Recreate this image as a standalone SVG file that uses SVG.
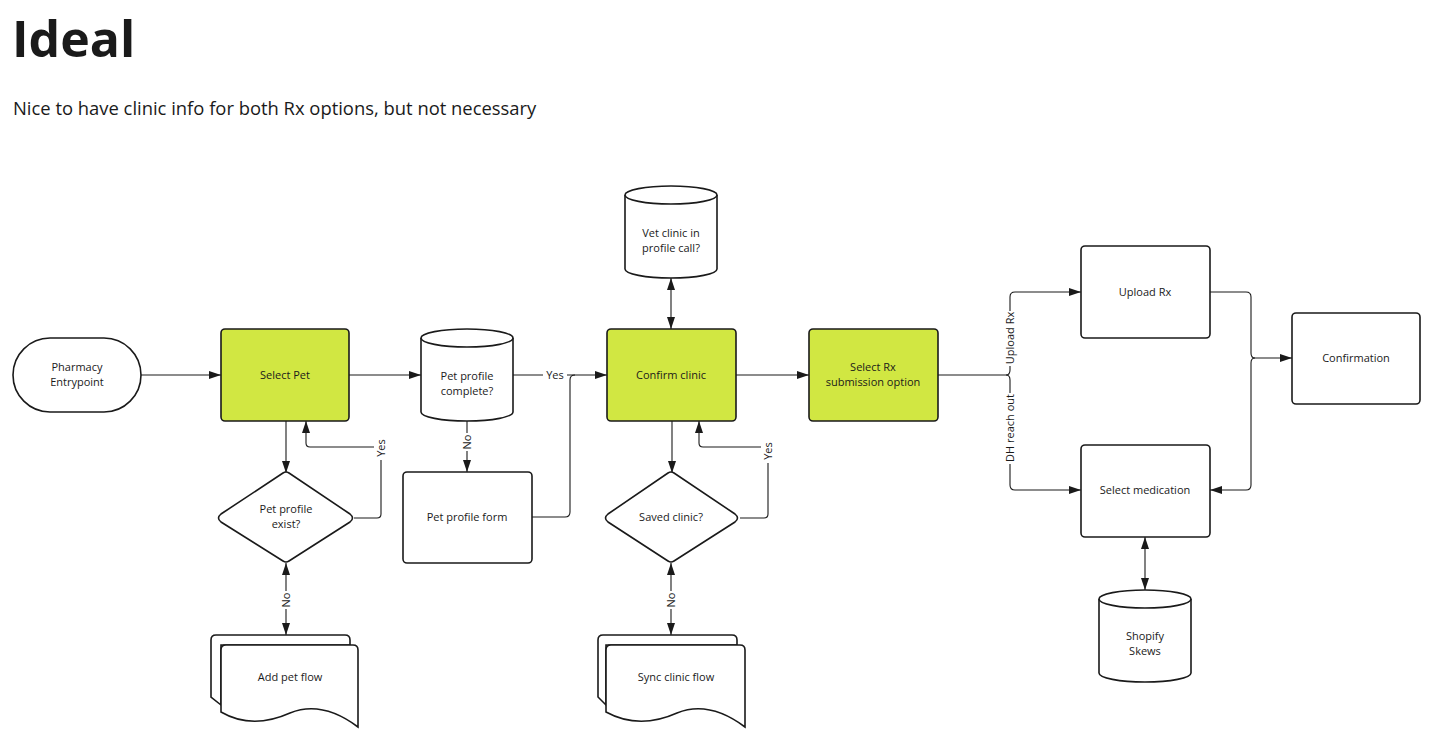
<svg xmlns="http://www.w3.org/2000/svg" width="1440" height="748" viewBox="0 0 1440 748">
<defs>
<marker id="arr" viewBox="0 0 12 8" refX="12" refY="4" markerWidth="12" markerHeight="8" markerUnits="userSpaceOnUse" orient="auto-start-reverse">
<path d="M0,0 L12,4 L0,8 Z" fill="#1a1a1a"/>
</marker>
<style>
.t{font-family:"Open Sans","Noto Sans","Liberation Sans",sans-serif;fill:#1a1a1a}
.n{font-size:11px;text-anchor:middle}
.s{fill:#fff;stroke:#1a1a1a;stroke-width:1.6}
.g{fill:#d1e742;stroke:#1a1a1a;stroke-width:1.6}
.c{fill:none;stroke:#1a1a1a;stroke-width:1.1}
.lb{fill:#fff;stroke:none}
</style>
</defs>
<rect width="1440" height="748" fill="#fff"/>
<text class="t" x="12" y="57" font-size="50" font-weight="700">Ideal</text>
<text class="t" x="13" y="115" font-size="18.4">Nice to have clinic info for both Rx options, but not necessary</text>

<g id="connectors">
<path class="c" d="M140,375 H221" marker-end="url(#arr)"/>
<path class="c" d="M349,375 H421" marker-end="url(#arr)"/>
<path class="c" d="M513,375 H607" marker-end="url(#arr)"/>
<path class="c" d="M532,517 H565 Q570,517 570,512 V380 Q570,375 575,375"/>
<path class="c" d="M286,421 V473" marker-end="url(#arr)"/>
<path class="c" d="M354,518 H377 Q381,518 381,514 V451 Q381,447 377,447 H310 Q306,447 306,443 V421" marker-end="url(#arr)"/>
<path class="c" d="M467,421 V472" marker-end="url(#arr)"/>
<path class="c" d="M286,563 V635" marker-start="url(#arr)" marker-end="url(#arr)"/>
<path class="c" d="M671,278 V329" marker-start="url(#arr)" marker-end="url(#arr)"/>
<path class="c" d="M672,421 V473" marker-end="url(#arr)"/>
<path class="c" d="M740,518 H764 Q768,518 768,514 V451 Q768,447 764,447 H703 Q699,447 699,443 V421" marker-end="url(#arr)"/>
<path class="c" d="M671,563 V635" marker-start="url(#arr)" marker-end="url(#arr)"/>
<path class="c" d="M736,375 H809" marker-end="url(#arr)"/>
<path class="c" d="M938,375 H1006 Q1010,375 1010,370 V297 Q1010,292 1015,292 H1081" marker-end="url(#arr)"/>
<path class="c" d="M1006,375 Q1010,375 1010,380 V485 Q1010,490 1015,490 H1081" marker-end="url(#arr)"/>
<path class="c" d="M1210,292 H1246 Q1251,292 1251,297 V353 Q1251,358 1255,358 H1292" marker-end="url(#arr)"/>
<path class="c" d="M1255,358 Q1251,358 1251,363 V485 Q1251,490 1246,490 H1210" marker-end="url(#arr)"/>
<path class="c" d="M1145,537 V590" marker-start="url(#arr)" marker-end="url(#arr)"/>
<rect class="lb" x="543" y="368" width="24" height="14"/>
<text class="t n" x="555" y="379">Yes</text>
<rect class="lb" x="374" y="436" width="14" height="24"/>
<text class="t n" transform="translate(385,448) rotate(-90)">Yes</text>
<rect class="lb" x="460" y="433" width="14" height="18"/>
<text class="t n" transform="translate(471,442) rotate(-90)">No</text>
<rect class="lb" x="279" y="591" width="14" height="18"/>
<text class="t n" transform="translate(290,600) rotate(-90)">No</text>
<rect class="lb" x="761" y="439" width="14" height="24"/>
<text class="t n" transform="translate(772,451) rotate(-90)">Yes</text>
<rect class="lb" x="664" y="591" width="14" height="18"/>
<text class="t n" transform="translate(675,600) rotate(-90)">No</text>
<rect class="lb" x="1003" y="311" width="14" height="55"/>
<text class="t n" transform="translate(1014,338) rotate(-90)">Upload Rx</text>
<rect class="lb" x="1003" y="393" width="14" height="71"/>
<text class="t n" transform="translate(1014,428) rotate(-90)">DH reach out</text>
</g>

<g id="pharmacy-entrypoint">
<rect class="s" x="13" y="338" width="128" height="74" rx="37"/>
<text class="t n" x="77" y="371">Pharmacy</text>
<text class="t n" x="77" y="386">Entrypoint</text>
</g>
<g id="select-pet">
<rect class="g" x="221" y="329" width="128" height="92" rx="4"/>
<text class="t n" x="285" y="379">Select Pet</text>
</g>
<g id="pet-profile-complete">
<path class="s" d="M421,338 A46,9 0 0 1 513,338 V412 A46,9 0 0 1 421,412 Z"/>
<path class="s" d="M421,338 A46,9 0 0 0 513,338" fill="none"/>
<text class="t n" x="467" y="380">Pet profile</text>
<text class="t n" x="467" y="395">complete?</text>
</g>
<g id="pet-profile-exist">
<path class="s" d="M283,473 Q286,471 289,473 L350,514 Q355,518 350,522 L289,561 Q286,563 283,561 L221,522 Q216,518 221,514 Z"/>
<text class="t n" x="286" y="513">Pet profile</text>
<text class="t n" x="286" y="528">exist?</text>
</g>
<g id="pet-profile-form">
<rect class="s" x="403" y="472" width="129" height="91" rx="4"/>
<text class="t n" x="467" y="521">Pet profile form</text>
</g>
<g id="add-pet-flow">
<path class="s" d="M221,705 L211,697 V640 Q211,635 216,635 H345 Q350,635 350,640 V645 H221 Z"/>
<path class="s" d="M221,650 Q221,645 226,645 H353 Q358,645 358,650 V727 Q322,700 290,713 Q252,730 221,712 Z"/>
<text class="t n" x="290" y="681">Add pet flow</text>
</g>
<g id="vet-clinic">
<path class="s" d="M625,195 A46,9 0 0 1 717,195 V269 A46,9 0 0 1 625,269 Z"/>
<path class="s" d="M625,195 A46,9 0 0 0 717,195" fill="none"/>
<text class="t n" x="671" y="237">Vet clinic in</text>
<text class="t n" x="671" y="252">profile call?</text>
</g>
<g id="confirm-clinic">
<rect class="g" x="607" y="329" width="129" height="92" rx="4"/>
<text class="t n" x="671" y="379">Confirm clinic</text>
</g>
<g id="saved-clinic">
<path class="s" d="M668,473 Q671,471 674,473 L735,514 Q740,518 735,522 L674,561 Q671,563 668,561 L608,522 Q603,518 608,514 Z"/>
<text class="t n" x="671" y="521">Saved clinic?</text>
</g>
<g id="sync-clinic-flow">
<path class="s" d="M606,705 L598,697 V640 Q598,635 603,635 H732 Q737,635 737,640 V645 H606 Z"/>
<path class="s" d="M606,650 Q606,645 611,645 H740 Q745,645 745,650 V727 Q709,700 677,713 Q639,730 606,712 Z"/>
<text class="t n" x="676" y="681">Sync clinic flow</text>
</g>
<g id="select-rx">
<rect class="g" x="809" y="329" width="129" height="92" rx="4"/>
<text class="t n" x="873" y="371">Select Rx</text>
<text class="t n" x="873" y="386">submission option</text>
</g>
<g id="upload-rx">
<rect class="s" x="1081" y="246" width="129" height="92" rx="4"/>
<text class="t n" x="1145" y="296">Upload Rx</text>
</g>
<g id="select-medication">
<rect class="s" x="1081" y="445" width="129" height="92" rx="4"/>
<text class="t n" x="1145" y="494">Select medication</text>
</g>
<g id="confirmation">
<rect class="s" x="1292" y="313" width="128" height="91" rx="4"/>
<text class="t n" x="1356" y="362">Confirmation</text>
</g>
<g id="shopify-skews">
<path class="s" d="M1099,599 A46,9 0 0 1 1191,599 V673 A46,9 0 0 1 1099,673 Z"/>
<path class="s" d="M1099,599 A46,9 0 0 0 1191,599" fill="none"/>
<text class="t n" x="1145" y="640">Shopify</text>
<text class="t n" x="1145" y="655">Skews</text>
</g>
</svg>
